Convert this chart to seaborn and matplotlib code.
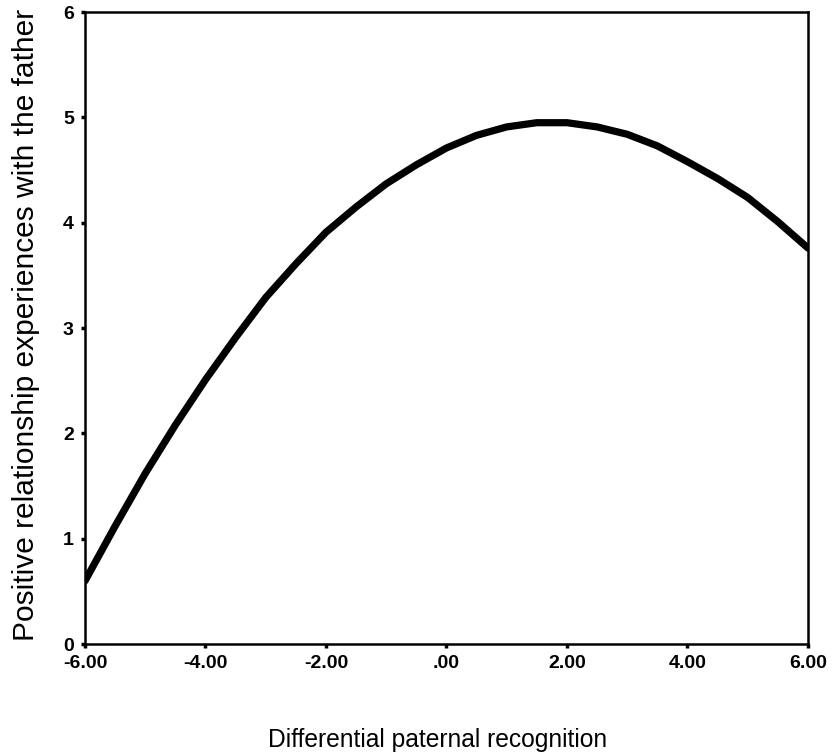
import matplotlib
matplotlib.use('Agg')
import matplotlib.pyplot as plt
import seaborn as sns
import pandas as pd

# values at half-unit steps
recognition = [-6.0, -5.5, -5.0, -4.5, -4.0, -3.5, -3.0, -2.5, -2.0, -1.5, -1.0, -0.5,
               0.0, 0.5, 1.0, 1.5, 2.0, 2.5, 3.0, 3.5, 4.0, 4.5, 5.0, 5.5, 6.0]
positive_exp = [0.60, 1.12, 1.62, 2.08, 2.51, 2.91, 3.29, 3.61, 3.91, 4.15, 4.37, 4.55,
                4.71, 4.83, 4.91, 4.95, 4.95, 4.91, 4.84, 4.73, 4.58, 4.42, 4.24, 4.01, 3.76]

x_ticks = [-6, -4, -2, 0, 2, 4, 6]
x_tick_labels = ['-6.00', '-4.00', '-2.00', '.00', '2.00', '4.00', '6.00']
y_ticks = [0, 1, 2, 3, 4, 5, 6]

df = pd.DataFrame({'recognition': recognition, 'positive': positive_exp})

sns.set_style('ticks')
plt.rcParams['font.family'] = ['Liberation Sans', 'DejaVu Sans']

fig = plt.figure(figsize=(8.39, 7.56), dpi=100)
ax = fig.add_axes([0.1013, 0.148, 0.8617, 0.836])

sns.lineplot(data=df, x='recognition', y='positive', color='black', linewidth=5.2, ax=ax)

ax.set_xlim(-6, 6)
ax.set_ylim(0, 6)
ax.set_xticks(x_ticks)
ax.set_xticklabels(x_tick_labels)
ax.set_yticks(y_ticks)

for side in ['left', 'right', 'top', 'bottom']:
    ax.spines[side].set_visible(True)
    ax.spines[side].set_linewidth(1.8)
    ax.spines[side].set_color('black')

ax.tick_params(axis='both', direction='out', length=3, width=2.5, colors='black',
               labelsize=14, pad=5)
for lab in ax.get_xticklabels() + ax.get_yticklabels():
    lab.set_fontweight('bold')

ax.set_xlabel('Differential paternal recognition', fontsize=17.7, color='black')
ax.set_ylabel('Positive relationship experiences with the father', fontsize=21.5,
              color='black')
ax.xaxis.label.set_va('center')
ax.yaxis.label.set_va('center')
ax.xaxis.set_label_coords(0.488, -0.152)
ax.yaxis.set_label_coords(-0.082, 0.505)

fig.savefig('out.png', dpi=100)
